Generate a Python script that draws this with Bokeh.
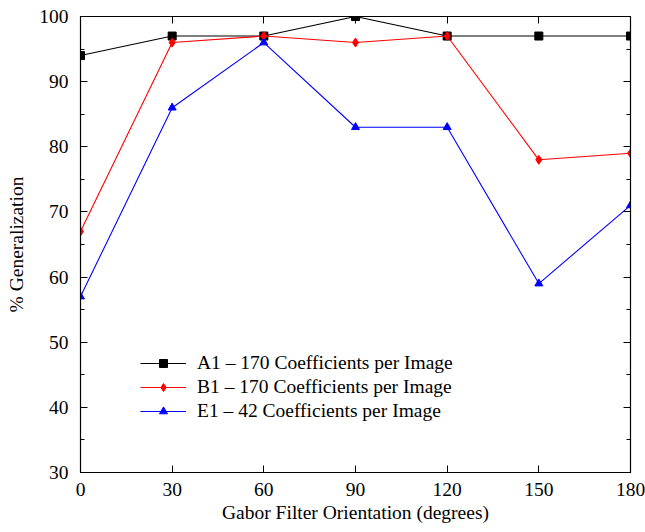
from bokeh.plotting import figure
from bokeh.models import Range1d, LinearAxis, FixedTicker, Legend, LegendItem
from bokeh.embed import file_html
from bokeh.resources import INLINE

orientation = [0, 30, 60, 90, 120, 150, 180]
a1 = [94, 97, 97, 100, 97, 97, 97]
b1 = [67, 96, 97, 96, 97, 78, 79]
e1 = [57, 86, 96, 83, 83, 59, 71]
x_ticks = [0, 30, 60, 90, 120, 150, 180]
y_ticks = [30, 40, 50, 60, 70, 80, 90, 100]
y_minor = [35, 45, 55, 65, 75, 85, 95]
labels = ["A1 \u2013 170 Coefficients per Image",
          "B1 \u2013 170 Coefficients per Image",
          "E1 \u2013 42 Coefficients per Image"]

FONT = "Liberation Serif"

p = figure(width=645, height=532, output_backend="svg", toolbar_location=None,
           x_range=Range1d(0, 180), y_range=Range1d(30, 100),
           min_border_left=80, min_border_right=15, min_border_top=16, min_border_bottom=60)
p.xgrid.visible = False
p.ygrid.visible = False
p.outline_line_color = "black"
p.outline_line_width = 1.2
p.background_fill_color = "white"
p.border_fill_color = "white"

def style_axis(ax, ticks, minor, show_labels=True):
    ax.ticker = FixedTicker(ticks=ticks, minor_ticks=minor)
    ax.major_tick_in = 7
    ax.major_tick_out = 0
    ax.minor_tick_in = 4
    ax.minor_tick_out = 0
    ax.axis_line_color = "black"
    ax.major_tick_line_color = "black"
    ax.minor_tick_line_color = "black"
    ax.major_label_text_font = FONT
    ax.major_label_text_font_size = "19.5px"
    ax.major_label_text_color = "black"
    ax.axis_label_text_font = FONT
    ax.axis_label_text_font_size = "19.5px"
    ax.axis_label_text_font_style = "normal"
    ax.axis_label_text_color = "black"
    if not show_labels:
        ax.major_label_text_alpha = 0

style_axis(p.xaxis[0], x_ticks, [])
style_axis(p.yaxis[0], y_ticks, y_minor)
p.xaxis[0].axis_label = "Gabor Filter Orientation (degrees)"
p.yaxis[0].axis_label = "% Generalization"
p.xaxis[0].major_label_standoff = 10
p.yaxis[0].major_label_standoff = 12
p.xaxis[0].axis_label_standoff = 3
p.yaxis[0].axis_label_standoff = 9

top = LinearAxis()
style_axis(top, x_ticks, [], show_labels=False)
top.major_label_overrides = {t: "" for t in x_ticks}
p.add_layout(top, "above")
right = LinearAxis()
style_axis(right, y_ticks, y_minor, show_labels=False)
right.major_label_overrides = {t: "" for t in y_ticks}
p.add_layout(right, "right")

la = p.line(orientation, a1, line_color="black", line_width=1.1)
sa = p.scatter(orientation, a1, marker="square", size=8, fill_color="black", line_color="black")
lb = p.line(orientation, b1, line_color="red", line_width=1.1)
sb = p.scatter(orientation, b1, marker="diamond", size=9, fill_color="red", line_color="red")
le = p.line(orientation, e1, line_color="blue", line_width=1.1)
se = p.scatter(orientation, e1, marker="triangle", size=8, fill_color="blue", line_color="blue")

legend = Legend(items=[LegendItem(label=labels[0], renderers=[la, sa]),
                       LegendItem(label=labels[1], renderers=[lb, sb]),
                       LegendItem(label=labels[2], renderers=[le, se])],
                location=(60, 50), orientation="vertical")
legend.label_text_font = FONT
legend.label_text_font_size = "19.5px"
legend.label_text_color = "black"
legend.border_line_alpha = 0
legend.background_fill_alpha = 0
legend.glyph_width = 46
legend.glyph_height = 20
legend.spacing = 2
legend.label_standoff = 11
legend.padding = 0
legend.margin = 0
p.add_layout(legend, "center")

open("out.html", "w").write(file_html(p, INLINE))
